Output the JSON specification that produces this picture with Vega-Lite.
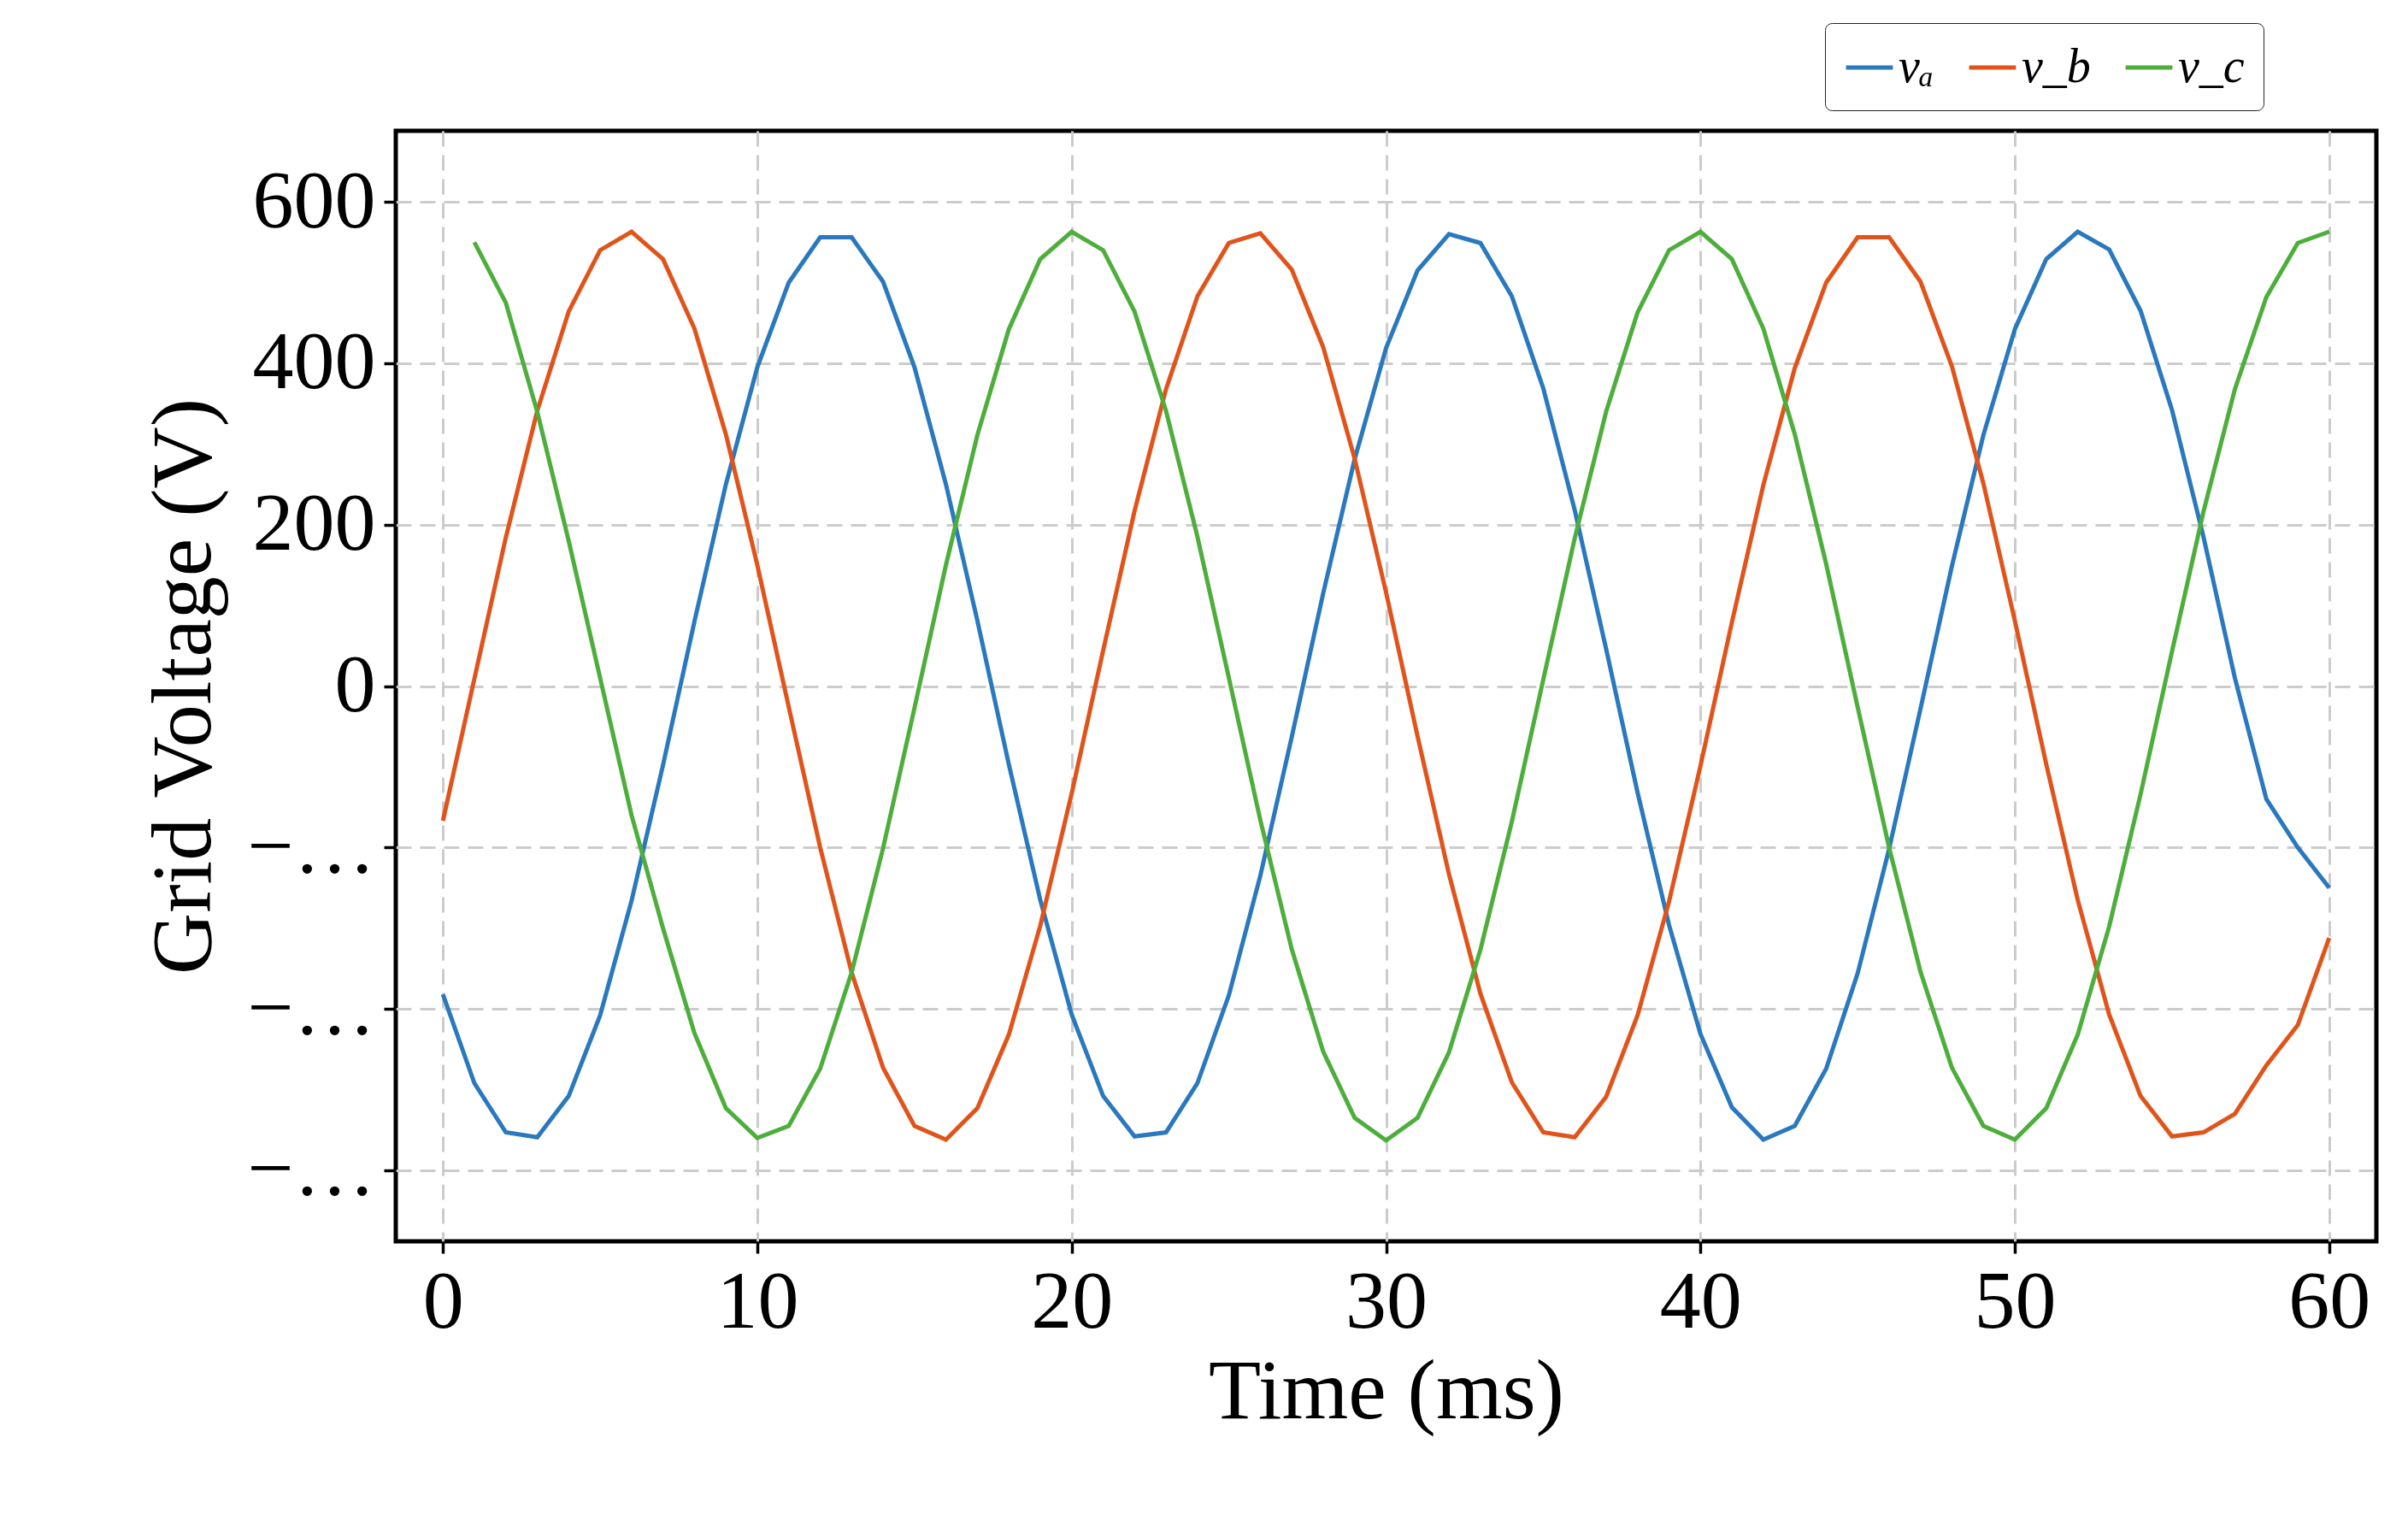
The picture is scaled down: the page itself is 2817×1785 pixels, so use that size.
{
  "$schema": "https://vega.github.io/schema/vega-lite/v6.json",
  "width": 2317,
  "height": 1299,
  "autosize": {"type": "none"},
  "padding": {"left": 463, "top": 153, "right": 37, "bottom": 333},
  "background": "white",
  "config": {
    "view": {"stroke": "black", "strokeWidth": 5},
    "font": "Liberation Serif",
    "axis": {
      "labelFont": "Liberation Serif", "titleFont": "Liberation Serif",
      "labelFontSize": 96, "titleFontSize": 100, "labelColor": "black", "titleColor": "black",
      "titleFontWeight": "normal", "domain": false,
      "tickColor": "black", "tickWidth": 3.5, "tickSize": 14, "labelPadding": 10,
      "grid": true, "gridColor": "#cccccc", "gridWidth": 3, "gridDash": [18, 10]
    }
  },
  "data": {"values": [
    {"t":0,"p":"va","v":-382},{"t":1,"p":"va","v":-492},{"t":2,"p":"va","v":-553},{"t":3,"p":"va","v":-559},{"t":4,"p":"va","v":-508},{"t":5,"p":"va","v":-408},{"t":6,"p":"va","v":-266},{"t":7,"p":"va","v":-98},{"t":8,"p":"va","v":80},{"t":9,"p":"va","v":250},
    {"t":10,"p":"va","v":395},{"t":11,"p":"va","v":500},{"t":12,"p":"va","v":556},{"t":13,"p":"va","v":556},{"t":14,"p":"va","v":501},{"t":15,"p":"va","v":395},{"t":16,"p":"va","v":250},{"t":17,"p":"va","v":81},{"t":18,"p":"va","v":-97},{"t":19,"p":"va","v":-265},
    {"t":20,"p":"va","v":-407},{"t":21,"p":"va","v":-508},{"t":22,"p":"va","v":-558},{"t":23,"p":"va","v":-553},{"t":24,"p":"va","v":-492},{"t":25,"p":"va","v":-383},{"t":26,"p":"va","v":-235},{"t":27,"p":"va","v":-63},{"t":28,"p":"va","v":115},{"t":29,"p":"va","v":281},
    {"t":30,"p":"va","v":419},{"t":31,"p":"va","v":515},{"t":32,"p":"va","v":560},{"t":33,"p":"va","v":549},{"t":34,"p":"va","v":483},{"t":35,"p":"va","v":369},{"t":36,"p":"va","v":218},{"t":37,"p":"va","v":46},{"t":38,"p":"va","v":-132},{"t":39,"p":"va","v":-296},
    {"t":40,"p":"va","v":-431},{"t":41,"p":"va","v":-522},{"t":42,"p":"va","v":-562},{"t":43,"p":"va","v":-545},{"t":44,"p":"va","v":-474},{"t":45,"p":"va","v":-356},{"t":46,"p":"va","v":-202},{"t":47,"p":"va","v":-28},{"t":48,"p":"va","v":149},{"t":49,"p":"va","v":311},
    {"t":50,"p":"va","v":442},{"t":51,"p":"va","v":529},{"t":52,"p":"va","v":563},{"t":53,"p":"va","v":541},{"t":54,"p":"va","v":465},{"t":55,"p":"va","v":342},{"t":56,"p":"va","v":185},{"t":57,"p":"va","v":10},{"t":58,"p":"va","v":-140},{"t":59,"p":"va","v":-200},{"t":60,"p":"va","v":-250},

    {"t":0,"p":"vb","v":-167},{"t":1,"p":"vb","v":9},{"t":2,"p":"vb","v":184},{"t":3,"p":"vb","v":341},{"t":4,"p":"vb","v":464},{"t":5,"p":"vb","v":540},{"t":6,"p":"vb","v":563},{"t":7,"p":"vb","v":529},{"t":8,"p":"vb","v":443},{"t":9,"p":"vb","v":312},
    {"t":10,"p":"vb","v":150},{"t":11,"p":"vb","v":-26},{"t":12,"p":"vb","v":-200},{"t":13,"p":"vb","v":-355},{"t":14,"p":"vb","v":-473},{"t":15,"p":"vb","v":-545},{"t":16,"p":"vb","v":-562},{"t":17,"p":"vb","v":-523},{"t":18,"p":"vb","v":-432},{"t":19,"p":"vb","v":-297},
    {"t":20,"p":"vb","v":-133},{"t":21,"p":"vb","v":44},{"t":22,"p":"vb","v":217},{"t":23,"p":"vb","v":368},{"t":24,"p":"vb","v":483},{"t":25,"p":"vb","v":549},{"t":26,"p":"vb","v":561},{"t":27,"p":"vb","v":516},{"t":28,"p":"vb","v":420},{"t":29,"p":"vb","v":282},
    {"t":30,"p":"vb","v":116},{"t":31,"p":"vb","v":-62},{"t":32,"p":"vb","v":-233},{"t":33,"p":"vb","v":-381},{"t":34,"p":"vb","v":-491},{"t":35,"p":"vb","v":-553},{"t":36,"p":"vb","v":-559},{"t":37,"p":"vb","v":-509},{"t":38,"p":"vb","v":-408},{"t":39,"p":"vb","v":-267},
    {"t":40,"p":"vb","v":-99},{"t":41,"p":"vb","v":79},{"t":42,"p":"vb","v":249},{"t":43,"p":"vb","v":394},{"t":44,"p":"vb","v":500},{"t":45,"p":"vb","v":556},{"t":46,"p":"vb","v":556},{"t":47,"p":"vb","v":501},{"t":48,"p":"vb","v":396},{"t":49,"p":"vb","v":251},
    {"t":50,"p":"vb","v":81},{"t":51,"p":"vb","v":-97},{"t":52,"p":"vb","v":-265},{"t":53,"p":"vb","v":-407},{"t":54,"p":"vb","v":-508},{"t":55,"p":"vb","v":-558},{"t":56,"p":"vb","v":-553},{"t":57,"p":"vb","v":-530},{"t":58,"p":"vb","v":-470},{"t":59,"p":"vb","v":-420},{"t":60,"p":"vb","v":-312},

    {"t":1,"p":"vc","v":550},{"t":2,"p":"vc","v":475},{"t":3,"p":"vc","v":340},{"t":4,"p":"vc","v":180},{"t":5,"p":"vc","v":10},{"t":6,"p":"vc","v":-160},{"t":7,"p":"vc","v":-300},{"t":8,"p":"vc","v":-430},{"t":9,"p":"vc","v":-523},
    {"t":10,"p":"vc","v":-560},{"t":11,"p":"vc","v":-545},{"t":12,"p":"vc","v":-474},{"t":13,"p":"vc","v":-355},{"t":14,"p":"vc","v":-201},{"t":15,"p":"vc","v":-27},{"t":16,"p":"vc","v":150},{"t":17,"p":"vc","v":311},{"t":18,"p":"vc","v":442},{"t":19,"p":"vc","v":529},
    {"t":20,"p":"vc","v":563},{"t":21,"p":"vc","v":540},{"t":22,"p":"vc","v":464},{"t":23,"p":"vc","v":341},{"t":24,"p":"vc","v":185},{"t":25,"p":"vc","v":10},{"t":26,"p":"vc","v":-166},{"t":27,"p":"vc","v":-326},{"t":28,"p":"vc","v":-453},{"t":29,"p":"vc","v":-535},
    {"t":30,"p":"vc","v":-563},{"t":31,"p":"vc","v":-535},{"t":32,"p":"vc","v":-454},{"t":33,"p":"vc","v":-327},{"t":34,"p":"vc","v":-168},{"t":35,"p":"vc","v":8},{"t":36,"p":"vc","v":183},{"t":37,"p":"vc","v":340},{"t":38,"p":"vc","v":463},{"t":39,"p":"vc","v":540},
    {"t":40,"p":"vc","v":563},{"t":41,"p":"vc","v":529},{"t":42,"p":"vc","v":443},{"t":43,"p":"vc","v":312},{"t":44,"p":"vc","v":151},{"t":45,"p":"vc","v":-26},{"t":46,"p":"vc","v":-200},{"t":47,"p":"vc","v":-354},{"t":48,"p":"vc","v":-473},{"t":49,"p":"vc","v":-545},
    {"t":50,"p":"vc","v":-562},{"t":51,"p":"vc","v":-523},{"t":52,"p":"vc","v":-432},{"t":53,"p":"vc","v":-298},{"t":54,"p":"vc","v":-134},{"t":55,"p":"vc","v":43},{"t":56,"p":"vc","v":216},{"t":57,"p":"vc","v":368},{"t":58,"p":"vc","v":482},{"t":59,"p":"vc","v":549},{"t":60,"p":"vc","v":563}
  ]},
  "mark": {"type": "line", "strokeWidth": 5, "clip": true},
  "encoding": {
    "x": {"field": "t", "type": "quantitative", "title": "Time (ms)",
      "scale": {"domain": [-1.5, 61.5], "nice": false, "zero": false},
      "axis": {"values": [0, 10, 20, 30, 40, 50, 60], "titlePadding": 8}},
    "y": {"field": "v", "type": "quantitative", "title": "Grid Voltage  (V)",
      "scale": {"domain": [-688, 688], "nice": false},
      "axis": {"values": [-600, -400, -200, 0, 200, 400, 600], "titlePadding": 22}},
    "color": {"field": "p", "type": "nominal",
      "scale": {"domain": ["va", "vb", "vc"], "range": ["#2a78bd", "#e0541b", "#4dae3c"]},
      "legend": {
        "title": null, "orient": "none", "legendX": 1672, "legendY": -126,
        "direction": "horizontal", "symbolType": "stroke", "symbolSize": 3000, "symbolStrokeWidth": 5,
        "labelFont": "Liberation Serif", "labelFontStyle": "italic", "labelFontSize": 56, "labelColor": "black",
        "columnPadding": 30, "padding": 22, "strokeColor": "#222222", "cornerRadius": 8,
        "fillColor": "white", "labelExpr": "datum.label == 'va' ? 'vₐ' : datum.label == 'vb' ? 'v_b' : 'v_c'"
      }}
  }
}
